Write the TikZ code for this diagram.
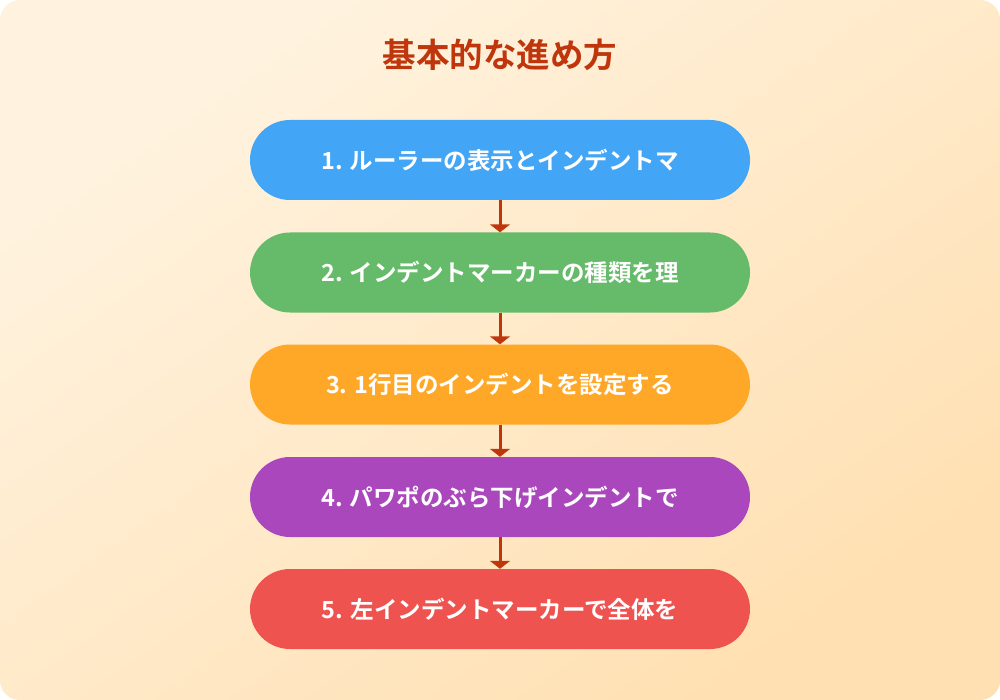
\documentclass[tikz,border=0pt]{standalone}
\usepackage{fontspec}
\newfontfamily\jpb{Noto Sans CJK JP Bold}
\usetikzlibrary{arrows.meta}
\definecolor{bgA}{HTML}{FFF3E0}
\definecolor{bgB}{HTML}{FFE0B2}
\definecolor{cBlue}{HTML}{42A5F5}
\definecolor{cGreen}{HTML}{66BB6A}
\definecolor{cOrange}{HTML}{FFA726}
\definecolor{cPurple}{HTML}{AB47BC}
\definecolor{cRed}{HTML}{EF5350}
\definecolor{cTitle}{HTML}{BF360C}
\tikzset{
  stepbox/.style={rounded corners=40pt, minimum width=500pt, minimum height=80pt,
    inner sep=0pt, text=white, font=\jpb\fontsize{23.5}{28}\selectfont},
  conn/.style={draw=cTitle, line width=3pt, -{Triangle[width=20pt,length=8pt]}}
}
\begin{document}
\begin{tikzpicture}[x=1pt,y=-1pt]
\useasboundingbox (0,0) rectangle (1000,700);
\fill[white] (0,0) rectangle (1000,700);
\shade[rounded corners=20pt, top color=bgA, bottom color=bgB, shading angle=35] (0,0) rectangle (1000,700);
\node[text=cTitle, font=\jpb\fontsize{33.5}{40}\selectfont] (title) at (500,55) {基本的な進め方};
\node[stepbox, fill=cBlue] (s1) at (500,160) {1. ルーラーの表示とインデントマ};
\node[stepbox, fill=cGreen] (s2) at (500,272.5) {2. インデントマーカーの種類を理};
\node[stepbox, fill=cOrange] (s3) at (500,384.5) {3. 1行目のインデントを設定する};
\node[stepbox, fill=cPurple] (s4) at (500,497) {4. パワポのぶら下げインデントで};
\node[stepbox, fill=cRed] (s5) at (500,609) {5. 左インデントマーカーで全体を};
\draw[conn] (s1.south) -- (s2.north);
\draw[conn] (s2.south) -- (s3.north);
\draw[conn] (s3.south) -- (s4.north);
\draw[conn] (s4.south) -- (s5.north);
\end{tikzpicture}
\end{document}
